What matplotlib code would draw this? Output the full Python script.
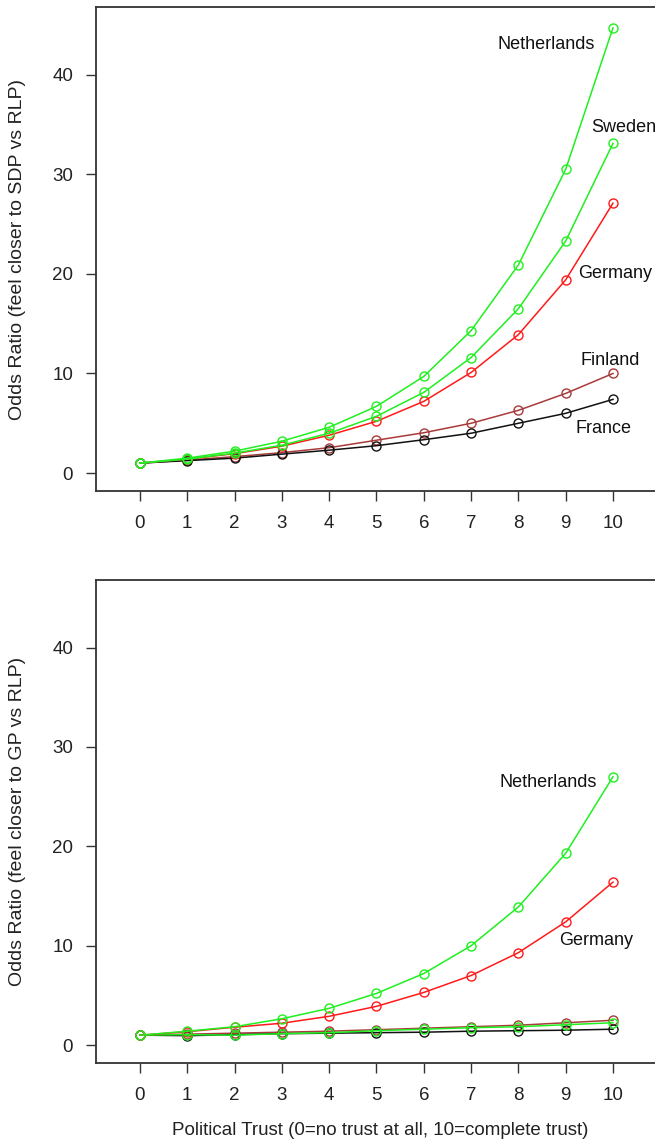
import matplotlib

matplotlib.use("Agg")
import matplotlib.pyplot as plt

plt.rcParams["font.family"] = ["Liberation Sans", "DejaVu Sans"]

trust = list(range(11))

# top panel: feel closer to SDP vs RLP
sdp_netherlands = [1.0, 1.5, 2.2, 3.2, 4.6, 6.7, 9.7, 14.3, 20.9, 30.5, 44.7]
sdp_sweden = [1.0, 1.4, 2.0, 2.8, 4.0, 5.7, 8.1, 11.6, 16.5, 23.3, 33.1]
sdp_germany = [1.0, 1.4, 1.95, 2.7, 3.8, 5.2, 7.2, 10.1, 13.9, 19.4, 27.1]
sdp_finland = [1.0, 1.3, 1.65, 2.05, 2.55, 3.3, 4.05, 5.0, 6.3, 8.0, 10.0]
sdp_france = [1.0, 1.25, 1.5, 1.9, 2.3, 2.75, 3.35, 4.0, 5.0, 6.0, 7.4]

# bottom panel: feel closer to GP vs RLP
gp_netherlands = [1.0, 1.4, 1.85, 2.65, 3.7, 5.2, 7.2, 10.0, 13.9, 19.3, 27.0]
gp_germany = [1.0, 1.35, 1.8, 2.2, 2.9, 3.9, 5.3, 7.0, 9.3, 12.4, 16.4]
gp_sweden = [1.0, 1.05, 1.0, 1.15, 1.25, 1.45, 1.6, 1.75, 1.85, 2.05, 2.25]
gp_finland = [1.0, 1.1, 1.2, 1.3, 1.4, 1.55, 1.7, 1.85, 2.0, 2.25, 2.5]
gp_france = [1.0, 0.95, 1.05, 1.15, 1.2, 1.25, 1.3, 1.4, 1.45, 1.5, 1.6]

GREEN = "#1ff01f"
RED = "#ff1a1a"
BROWN = "#a83a3a"
BLACK = "#111111"
INK = "#333333"

top_series = [
    (sdp_finland, BROWN), (sdp_france, BLACK), (sdp_germany, RED),
    (sdp_sweden, GREEN), (sdp_netherlands, GREEN),
]
top_labels = [("Netherlands", 8.58, 43.0), ("Sweden", 10.22, 34.7),
              ("Germany", 10.05, 20.0), ("Finland", 9.94, 11.3),
              ("France", 9.81, 4.5)]

bottom_series = [
    (gp_finland, BROWN), (gp_france, BLACK), (gp_sweden, GREEN),
    (gp_germany, RED), (gp_netherlands, GREEN),
]
bottom_labels = [("Netherlands", 8.64, 26.4), ("Germany", 9.65, 10.5)]

FS = 13

fig = plt.figure(figsize=(6.55, 11.44), dpi=100)
W, H = 655.0, 1144.0


def panel(top_px, bottom_px, series, labels, ylabel):
    ax = fig.add_axes([96 / W, 1 - bottom_px / H, (665 - 96) / W,
                       (bottom_px - top_px) / H])
    for vals, col in series:
        ax.plot(trust, vals, color=col, lw=1.1, marker="o", ms=6.5,
                mfc="none", mec=col, mew=1.0)
    for name, x, y in labels:
        ax.text(x, y, name, ha="center", va="center", fontsize=FS, color="#111111")
    ax.set_xlim(-0.93, 11.1)
    ax.set_ylim(-1.8, 46.8)
    ax.set_xticks(trust)
    ax.set_yticks([0, 10, 20, 30, 40])
    ax.tick_params(direction="out", length=7.5, width=1.0, color=INK,
                   labelsize=13.5, labelcolor="#222222", pad=10)
    ax.tick_params(axis="y", pad=9)
    for s in ax.spines.values():
        s.set_color(INK)
        s.set_linewidth(1.3)
    ax.set_ylabel(ylabel, fontsize=14, color="#222222", labelpad=19)
    return ax


panel(7, 491, top_series, top_labels, "Odds Ratio (feel closer to SDP vs RLP)")
ax2 = panel(580, 1063, bottom_series, bottom_labels,
            "Odds Ratio (feel closer to GP vs RLP)")
ax2.set_xlabel("Political Trust (0=no trust at all, 10=complete trust)",
               fontsize=13.5, color="#222222", labelpad=13)

fig.savefig("out.png", dpi=100)
